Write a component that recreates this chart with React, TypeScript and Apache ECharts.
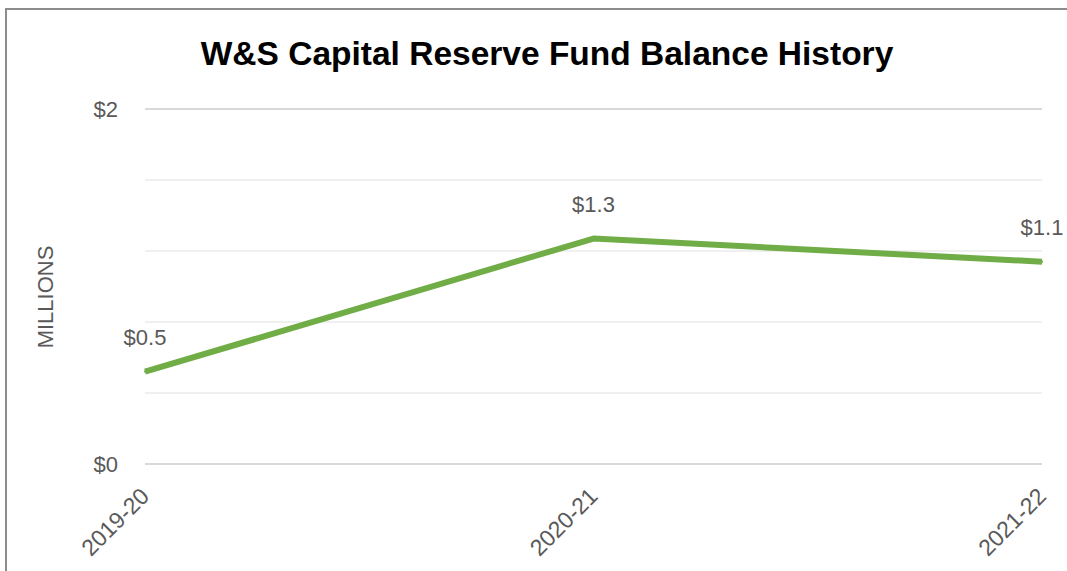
import React, { useEffect, useRef } from "react";
import * as echarts from "echarts";

const categories: string[] = ["2019-20", "2020-21", "2021-22"];
const balances: number[] = [0.52, 1.27, 1.14];
const yMin = 0;
const yMax = 2;
const yInterval = 2;
const titleText = "W&S Capital Reserve Fund Balance History";
const yAxisName = "MILLIONS";

const FONT = '"Liberation Sans", Arial, sans-serif';
const GRAY = "#595959";

export default function App() {
  const ref = useRef<HTMLDivElement>(null);
  useEffect(() => {
    document.body.style.margin = "0";
    if (!ref.current) return;
    const chart = echarts.init(ref.current, undefined, { renderer: "svg" });
    chart.setOption({
      animation: false,
      backgroundColor: "#ffffff",
      title: {
        text: titleText,
        left: 542,
        textAlign: "center",
        top: 31,
        textStyle: { fontFamily: FONT, fontSize: 33.5, fontWeight: "bold", color: "#000000" },
      },
      graphic: [
        {
          type: "rect",
          shape: { x: 6, y: 9, width: 1080, height: 600 },
          style: { fill: "none", stroke: "#8c8c8c", lineWidth: 2 },
          silent: true,
        },
        {
          type: "text",
          x: 45,
          y: 297,
          rotation: Math.PI / 2,
          style: {
            text: yAxisName,
            fill: GRAY,
            font: `22px ${FONT}`,
            align: "center",
            verticalAlign: "middle",
          },
          silent: true,
        },
      ],
      grid: { left: 145, right: 25, top: 109, bottom: 107 },
      xAxis: {
        type: "category",
        data: categories,
        boundaryGap: false,
        axisLine: { show: false },
        axisTick: { show: false },
        axisLabel: {
          rotate: 45,
          margin: 28,
          color: GRAY,
          fontFamily: FONT,
          fontSize: 23,
        },
      },
      yAxis: {
        type: "value",
        min: yMin,
        max: yMax,
        interval: yInterval,
        axisLine: { show: false },
        axisTick: { show: false },
        axisLabel: {
          margin: 27,
          color: GRAY,
          fontFamily: FONT,
          fontSize: 22,
          formatter: (v: number) => "$" + v,
        },
        splitLine: { lineStyle: { color: "#d9d9d9", width: 2 } },
        minorTick: { show: false, splitNumber: 5 },
        minorSplitLine: { show: true, lineStyle: { color: "#f0f0f0", width: 2 } },
      },
      series: [
        {
          type: "line",
          data: balances,
          symbol: "circle",
          symbolSize: 2,
          showSymbol: true,
          lineStyle: { color: "#70ad47", width: 6 },
          itemStyle: { color: "#70ad47", borderWidth: 0 },
          label: {
            show: true,
            position: "top",
            distance: 22,
            color: GRAY,
            fontFamily: FONT,
            fontSize: 22,
            formatter: (p: any) => "$" + Number(p.value).toFixed(1),
          },
        },
      ],
    });
    return () => chart.dispose();
  }, []);
  return <div ref={ref} style={{ width: 1067, height: 571 }} />;
}
